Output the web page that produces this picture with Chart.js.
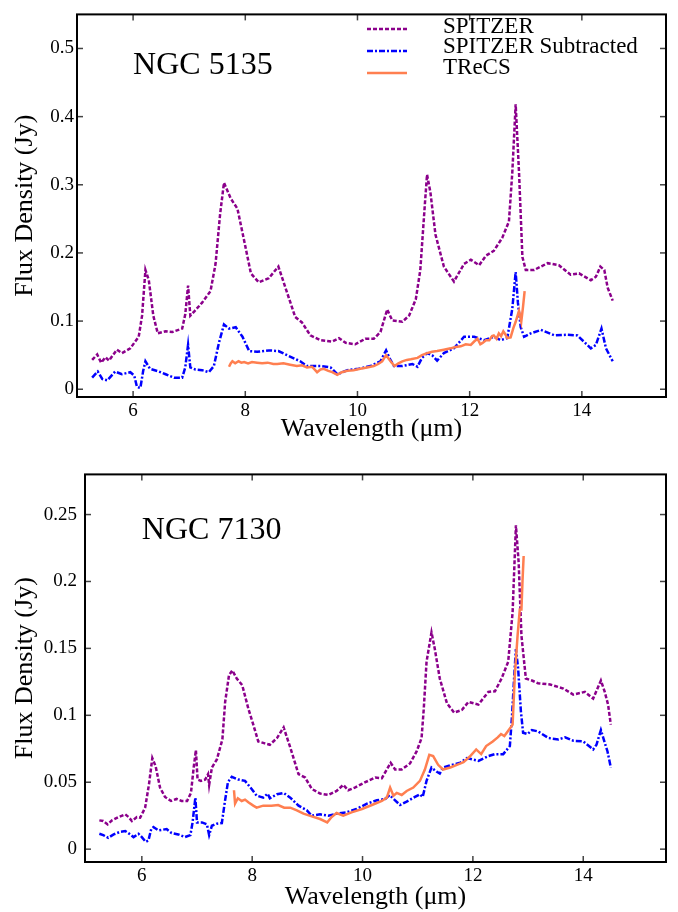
<!DOCTYPE html>
<html><head><meta charset="utf-8">
<script src="https://cdn.jsdelivr.net/npm/chart.js@4"></script>
<style>
html,body{margin:0;padding:0;background:#fff;}
#wrap{position:relative;width:678px;height:912px;background:#fff;}
canvas{position:absolute;left:0;}
#c1{top:0;}
#c2{top:455px;}
</style></head>
<body><div id="wrap"><canvas id="c1" width="678" height="455"></canvas><canvas id="c2" width="678" height="457"></canvas></div>
<script>
// ---------------- data (wavelength in micron, flux density in Jy) ----------------
const SERIES_NAMES = ['SPITZER', 'SPITZER Subtracted', 'TReCS'];
const X_TICKS = [6, 8, 10, 12, 14];
const Y_TICKS_5135 = [0, 0.1, 0.2, 0.3, 0.4, 0.5];
const Y_TICKS_7130 = [0, 0.05, 0.1, 0.15, 0.2, 0.25];
const PANEL_TITLES = ['NGC 5135', 'NGC 7130'];

const N5135_SPITZER = [[5.27,0.043],[5.36,0.051],[5.43,0.039],[5.51,0.047],[5.57,0.042],[5.71,0.058],[5.80,0.053],[5.95,0.060],[6.10,0.077],[6.16,0.108],[6.22,0.175],[6.28,0.160],[6.36,0.108],[6.44,0.082],[6.58,0.085],[6.70,0.084],[6.875,0.089],[6.93,0.110],[6.98,0.152],[7.02,0.108],[7.10,0.115],[7.23,0.127],[7.38,0.144],[7.47,0.184],[7.55,0.256],[7.62,0.303],[7.74,0.280],[7.86,0.265],[7.98,0.218],[8.10,0.170],[8.24,0.157],[8.42,0.163],[8.59,0.180],[8.89,0.106],[9.01,0.098],[9.16,0.079],[9.34,0.072],[9.55,0.070],[9.67,0.075],[9.79,0.068],[9.96,0.066],[10.14,0.074],[10.29,0.074],[10.41,0.084],[10.53,0.117],[10.62,0.101],[10.80,0.099],[10.92,0.108],[11.04,0.132],[11.12,0.175],[11.20,0.270],[11.24,0.315],[11.30,0.289],[11.39,0.227],[11.54,0.180],[11.72,0.158],[11.90,0.184],[12.02,0.190],[12.17,0.182],[12.29,0.196],[12.43,0.203],[12.58,0.222],[12.70,0.246],[12.76,0.318],[12.82,0.418],[12.88,0.318],[12.94,0.194],[13.00,0.175],[13.15,0.175],[13.39,0.185],[13.59,0.182],[13.80,0.168],[13.95,0.170],[14.16,0.160],[14.25,0.165],[14.33,0.180],[14.40,0.175],[14.46,0.149],[14.55,0.130]];

const N5135_SUBTRACTED = [[5.27,0.017],[5.37,0.026],[5.45,0.015],[5.54,0.013],[5.68,0.026],[5.80,0.022],[5.95,0.025],[6.02,0.020],[6.07,0.003],[6.13,0.002],[6.18,0.027],[6.22,0.041],[6.30,0.030],[6.46,0.026],[6.58,0.022],[6.73,0.017],[6.875,0.017],[6.93,0.032],[6.98,0.065],[7.02,0.032],[7.11,0.029],[7.23,0.028],[7.35,0.025],[7.44,0.034],[7.53,0.068],[7.62,0.095],[7.71,0.089],[7.83,0.091],[7.95,0.077],[8.07,0.056],[8.21,0.055],[8.42,0.057],[8.59,0.056],[8.77,0.049],[8.98,0.041],[9.10,0.034],[9.34,0.034],[9.52,0.032],[9.64,0.022],[9.82,0.028],[10.02,0.030],[10.23,0.034],[10.41,0.041],[10.51,0.057],[10.58,0.044],[10.65,0.034],[10.80,0.034],[10.98,0.037],[11.07,0.033],[11.15,0.046],[11.24,0.053],[11.33,0.050],[11.42,0.042],[11.54,0.053],[11.72,0.060],[11.90,0.077],[12.08,0.077],[12.26,0.072],[12.43,0.077],[12.55,0.072],[12.67,0.075],[12.76,0.118],[12.82,0.172],[12.86,0.127],[12.91,0.091],[12.97,0.077],[13.09,0.082],[13.27,0.087],[13.51,0.079],[13.75,0.080],[13.92,0.079],[14.16,0.060],[14.25,0.065],[14.35,0.089],[14.43,0.060],[14.55,0.041]];

const N5135_TRECS = [[7.71,0.033],[7.74,0.038],[7.77,0.041],[7.82,0.038],[7.88,0.041],[7.93,0.039],[7.98,0.040],[8.05,0.038],[8.12,0.040],[8.21,0.039],[8.30,0.038],[8.40,0.039],[8.50,0.037],[8.57,0.037],[8.68,0.038],[8.80,0.036],[8.92,0.034],[9.01,0.035],[9.10,0.032],[9.19,0.033],[9.28,0.025],[9.34,0.029],[9.40,0.030],[9.48,0.027],[9.55,0.025],[9.64,0.021],[9.72,0.025],[9.82,0.027],[9.93,0.028],[10.05,0.030],[10.17,0.032],[10.29,0.034],[10.37,0.037],[10.44,0.041],[10.51,0.050],[10.59,0.041],[10.66,0.034],[10.73,0.038],[10.80,0.041],[10.88,0.043],[10.95,0.044],[11.07,0.046],[11.15,0.050],[11.24,0.053],[11.33,0.055],[11.42,0.056],[11.54,0.058],[11.66,0.060],[11.75,0.062],[11.84,0.063],[11.93,0.066],[12.02,0.065],[12.08,0.070],[12.14,0.074],[12.19,0.066],[12.23,0.068],[12.29,0.072],[12.35,0.072],[12.40,0.078],[12.43,0.079],[12.48,0.074],[12.52,0.082],[12.56,0.078],[12.60,0.085],[12.64,0.080],[12.67,0.075],[12.73,0.076],[12.78,0.090],[12.82,0.099],[12.88,0.115],[12.92,0.099],[12.95,0.120],[12.98,0.144]];

const N7130_SPITZER = [[5.23,0.0215],[5.30,0.021],[5.38,0.0185],[5.46,0.0215],[5.58,0.024],[5.70,0.026],[5.76,0.024],[5.82,0.021],[5.91,0.024],[5.97,0.0235],[6.06,0.031],[6.13,0.0485],[6.19,0.068],[6.25,0.062],[6.33,0.046],[6.42,0.039],[6.53,0.036],[6.63,0.0375],[6.72,0.036],[6.82,0.036],[6.89,0.042],[6.94,0.061],[6.98,0.074],[7.01,0.052],[7.07,0.051],[7.15,0.052],[7.20,0.056],[7.22,0.048],[7.27,0.061],[7.36,0.067],[7.42,0.076],[7.46,0.082],[7.51,0.110],[7.58,0.130],[7.64,0.1335],[7.72,0.1275],[7.82,0.1225],[7.93,0.105],[8.02,0.093],[8.11,0.0805],[8.23,0.079],[8.32,0.078],[8.45,0.083],[8.57,0.091],[8.69,0.076],[8.84,0.056],[8.96,0.0535],[9.08,0.045],[9.23,0.0415],[9.38,0.0405],[9.53,0.0435],[9.65,0.048],[9.74,0.044],[9.86,0.046],[10.05,0.050],[10.23,0.0535],[10.35,0.053],[10.44,0.0595],[10.51,0.0645],[10.59,0.0595],[10.71,0.0595],[10.86,0.064],[10.98,0.073],[11.07,0.083],[11.11,0.105],[11.16,0.140],[11.25,0.162],[11.31,0.1495],[11.40,0.1275],[11.53,0.109],[11.66,0.102],[11.80,0.104],[11.92,0.110],[12.10,0.108],[12.28,0.1175],[12.40,0.118],[12.52,0.1275],[12.64,0.140],[12.72,0.177],[12.78,0.242],[12.83,0.214],[12.88,0.1595],[12.96,0.1275],[13.07,0.126],[13.18,0.124],[13.40,0.123],[13.64,0.120],[13.82,0.1155],[14.03,0.1175],[14.18,0.1125],[14.32,0.126],[14.39,0.1175],[14.45,0.108],[14.50,0.093]];

const N7130_SUBTRACTED = [[5.23,0.0115],[5.30,0.0105],[5.39,0.0085],[5.49,0.011],[5.61,0.013],[5.70,0.0135],[5.79,0.011],[5.85,0.009],[5.94,0.0115],[6.00,0.009],[6.07,0.0055],[6.12,0.0065],[6.17,0.015],[6.21,0.0165],[6.30,0.014],[6.45,0.015],[6.54,0.012],[6.66,0.011],[6.78,0.009],[6.88,0.0105],[6.92,0.020],[6.97,0.0385],[7.00,0.020],[7.09,0.020],[7.18,0.0185],[7.22,0.0105],[7.27,0.0175],[7.36,0.019],[7.45,0.0195],[7.50,0.034],[7.56,0.050],[7.63,0.054],[7.75,0.052],[7.87,0.051],[7.99,0.045],[8.08,0.040],[8.20,0.0385],[8.28,0.0415],[8.32,0.038],[8.45,0.041],[8.57,0.042],[8.69,0.0385],[8.84,0.0325],[8.99,0.029],[9.08,0.025],[9.23,0.026],[9.38,0.025],[9.53,0.0265],[9.71,0.0275],[9.89,0.030],[10.08,0.034],[10.26,0.0365],[10.41,0.0375],[10.49,0.0405],[10.59,0.0365],[10.68,0.033],[10.80,0.0355],[10.95,0.039],[11.04,0.041],[11.09,0.039],[11.16,0.051],[11.25,0.061],[11.34,0.058],[11.40,0.0565],[11.46,0.061],[11.62,0.063],[11.77,0.0645],[11.89,0.068],[12.10,0.066],[12.28,0.0695],[12.40,0.071],[12.55,0.071],[12.67,0.077],[12.71,0.100],[12.75,0.130],[12.78,0.1495],[12.82,0.135],[12.87,0.103],[12.91,0.087],[12.99,0.086],[13.07,0.089],[13.18,0.088],[13.37,0.083],[13.55,0.082],[13.67,0.0835],[13.82,0.081],[14.00,0.0805],[14.18,0.0745],[14.24,0.078],[14.32,0.089],[14.39,0.0795],[14.44,0.073],[14.50,0.061]];

const N7130_TRECS = [[7.67,0.044],[7.69,0.034],[7.74,0.038],[7.81,0.036],[7.87,0.037],[7.93,0.035],[8.02,0.0325],[8.08,0.031],[8.20,0.0325],[8.35,0.0325],[8.47,0.033],[8.58,0.031],[8.69,0.031],[8.81,0.029],[8.93,0.0265],[9.08,0.0245],[9.23,0.0225],[9.36,0.020],[9.44,0.024],[9.53,0.027],[9.65,0.025],[9.80,0.0275],[9.99,0.030],[10.17,0.033],[10.35,0.036],[10.44,0.0385],[10.50,0.046],[10.56,0.040],[10.62,0.042],[10.71,0.0405],[10.80,0.0435],[10.92,0.046],[11.04,0.051],[11.13,0.0595],[11.21,0.0705],[11.28,0.0695],[11.37,0.063],[11.46,0.0595],[11.59,0.061],[11.71,0.063],[11.83,0.065],[11.94,0.069],[12.06,0.0745],[12.15,0.071],[12.24,0.077],[12.36,0.0805],[12.45,0.0835],[12.51,0.086],[12.57,0.0845],[12.65,0.089],[12.72,0.093],[12.76,0.130],[12.81,0.1595],[12.85,0.179],[12.88,0.179],[12.90,0.201],[12.92,0.219]];

// ---------------- styling ----------------
const SERIF = "'Liberation Serif', 'Times New Roman', serif";
const STYLES = [
  {color:'#8b008b', dash:[4,2], width:2.5},
  {color:'#0000ff', dash:[6,2,2,2], width:2.5},
  {color:'#ff7f50', dash:[], width:2.5}
];

const frameTicks = {
  id:'frameTicks',
  afterDatasetsDraw(chart){
    const {ctx, chartArea:{left,right,top,bottom}, scales:{x,y}} = chart;
    ctx.save();
    ctx.strokeStyle = '#444'; ctx.lineWidth = 1.5;
    const seg=(a,b,c,d)=>{ctx.beginPath();ctx.moveTo(a,b);ctx.lineTo(c,d);ctx.stroke();};
    x.ticks.forEach(t=>{const p=x.getPixelForValue(t.value); seg(p,bottom,p,bottom-6); seg(p,top,p,top+6);});
    y.ticks.forEach(t=>{const p=y.getPixelForValue(t.value); seg(left,p,left+6,p); seg(right,p,right-6,p);});
    ctx.strokeStyle='#000'; ctx.lineWidth=2;
    ctx.strokeRect(left,top,right-left,bottom-top);
    ctx.restore();
  }
};

const panelLabel = {
  id:'panelLabel',
  afterDraw(chart, args, opts){
    const {ctx, scales:{x,y}} = chart;
    ctx.save();
    ctx.font = '32px ' + SERIF; ctx.fillStyle='#000';
    ctx.textAlign='left'; ctx.textBaseline='alphabetic';
    ctx.fillText(opts.text, x.getPixelForValue(opts.x), y.getPixelForValue(opts.y));
    ctx.restore();
  }
};

const lineLegend = {
  id:'lineLegend',
  afterDraw(chart, args, opts){
    if(!opts.show) return;
    const {ctx} = chart;
    ctx.save();
    chart.data.datasets.forEach((ds,i)=>{
      const ly = opts.lineY[i];
      ctx.strokeStyle = ds.borderColor; ctx.lineWidth = ds.borderWidth;
      ctx.setLineDash(ds.borderDash||[]);
      ctx.beginPath(); ctx.moveTo(opts.x0, ly); ctx.lineTo(opts.x1, ly); ctx.stroke();
      ctx.setLineDash([]);
      ctx.font = '23px ' + SERIF; ctx.fillStyle='#000';
      ctx.textAlign='left'; ctx.textBaseline='alphabetic';
      ctx.fillText(ds.label, opts.tx, opts.textY[i]);
    });
    ctx.restore();
  }
};

function makePanel(id, cfg){
  const datasets = cfg.series.map((pts,i)=>({
    label: SERIES_NAMES[i],
    data: pts.map(p=>({x:p[0], y:p[1]})),
    borderColor: STYLES[i].color,
    backgroundColor: STYLES[i].color,
    borderDash: STYLES[i].dash,
    borderWidth: STYLES[i].width,
    pointRadius: 0,
    tension: 0,
    fill: false,
    order: i===2 ? 0 : (i===0 ? 1 : 2)
  }));
  return new Chart(document.getElementById(id), {
    type:'line',
    data:{datasets},
    plugins:[frameTicks, panelLabel, lineLegend],
    options:{
      responsive:false, animation:false, devicePixelRatio:1,
      layout:{padding:{top:cfg.padTop, right:12, left:0, bottom:0}},
      plugins:{
        legend:{display:false}, tooltip:{enabled:false},
        panelLabel:{text:cfg.title, x:cfg.titleX, y:cfg.titleY},
        lineLegend:{show:cfg.legend, x0:367, x1:407, tx:443, lineY:[29,51,73], textY:[33,53,74]}
      },
      scales:{
        x:{
          type:'linear', min:cfg.xMin, max:15.5,
          afterBuildTicks:s=>{s.ticks = X_TICKS.map(v=>({value:v}));},
          afterFit:s=>{s.height = cfg.xAxisH;},
          grid:{display:false, drawTicks:false}, border:{display:false},
          ticks:{color:'#000', font:{family:SERIF, size:19}, padding:3, maxRotation:0, autoSkip:false, callback:v=>String(v)},
          title:{display:true, text:'Wavelength (μm)', color:'#000', font:{family:SERIF, size:26, lineHeight:1}, padding:{top:0, bottom:cfg.xTitlePad}}
        },
        y:{
          type:'linear', min:cfg.yMin, max:cfg.yMax,
          afterBuildTicks:s=>{s.ticks = cfg.yTicks.map(v=>({value:v}));},
          afterFit:s=>{s.width = cfg.yAxisW;},
          grid:{display:false, drawTicks:false}, border:{display:false},
          ticks:{color:'#000', font:{family:SERIF, size:19}, padding:cfg.yTickPad, autoSkip:false, callback:v=>String(+Number(v).toFixed(3))},
          title:{display:true, text:'Flux Density (Jy)', color:'#000', font:{family:SERIF, size:26, lineHeight:1}, padding:{top:12, bottom:0}}
        }
      }
    }
  });
}

makePanel('c1', {
  series:[N5135_SPITZER, N5135_SUBTRACTED, N5135_TRECS],
  title:PANEL_TITLES[0], titleX:6.0, titleY:0.463,
  xMin:5, yMin:-0.0114, yMax:0.55, yTicks:Y_TICKS_5135,
  padTop:5, xAxisH:58, yAxisW:77, yTickPad:3, xTitlePad:13, legend:true
});
makePanel('c2', {
  series:[N7130_SPITZER, N7130_SUBTRACTED, N7130_TRECS],
  title:PANEL_TITLES[1], titleX:6.0, titleY:0.2315,
  xMin:4.97, yMin:-0.0096, yMax:0.28, yTicks:Y_TICKS_7130,
  padTop:16, xAxisH:50, yAxisW:85, yTickPad:8, xTitlePad:2, legend:false
});
</script>
</body></html>
